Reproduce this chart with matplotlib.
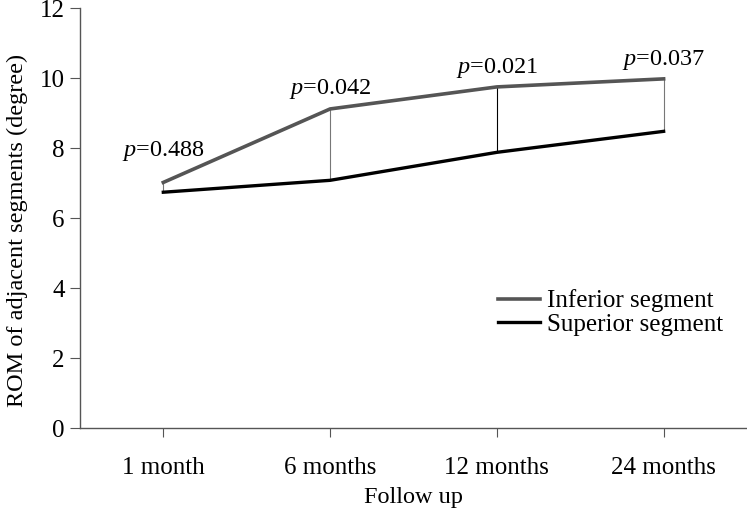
import matplotlib.pyplot as plt

plt.rcParams['font.family'] = ['Liberation Serif', 'DejaVu Serif']
plt.rcParams['mathtext.fontset'] = 'custom'
plt.rcParams['mathtext.it'] = 'Liberation Serif:italic'
plt.rcParams['mathtext.rm'] = 'Liberation Serif'

# data
follow_up = ["1 month", "6 months", "12 months", "24 months"]
inferior = [7.02, 9.12, 9.75, 9.98]
superior = [6.74, 7.08, 7.88, 8.48]
p_values = ["0.488", "0.042", "0.021", "0.037"]

x = range(len(follow_up))

fig = plt.figure(figsize=(7.47, 5.12), dpi=100)
ax = fig.add_axes([0.107, 0.164, 0.893, 0.82])

# vertical connectors between the two lines
conn_colors = ["#777777", "#777777", "black", "#777777"]
for i in x:
    ax.vlines(i, superior[i], inferior[i], color=conn_colors[i], lw=0.8, zorder=1)

ax.plot(x, inferior, color="#555555", lw=2.6, label="Inferior segment", zorder=3)
ax.plot(x, superior, color="black", lw=2.4, label="Superior segment", zorder=3)

# p value labels above the inferior line
offsets = [14, 6, 5, 5]
for i in x:
    ax.annotate("$p$=" + p_values[i], (i, inferior[i]), xytext=(0, offsets[i]),
                textcoords="offset points", ha="center", va="bottom", fontsize=17.5)

ax.set_xlim(-0.5, 3.5)
ax.set_ylim(0, 12)
ax.set_xticks(list(x))
ax.set_xticklabels(follow_up)
ax.set_yticks(range(0, 13, 2))

for s in ["top", "right"]:
    ax.spines[s].set_visible(False)
for s in ["left", "bottom"]:
    ax.spines[s].set_color("#555555")
    ax.spines[s].set_linewidth(1.0)
ax.tick_params(axis="both", colors="#555555", labelcolor="black", labelsize=18)
ax.tick_params(axis="y", length=7, pad=4)
ax.tick_params(axis="x", length=6.5, pad=14)

ax.set_xlabel("Follow up", fontsize=17.5, labelpad=6)
ax.set_ylabel("ROM of adjacent segments (degree)", fontsize=17.5)
ax.yaxis.set_label_coords(-0.078, 0.47)

ax.legend(loc="upper left", bbox_to_anchor=(0.626, 0.33), frameon=False, fontsize=18,
          handlelength=1.7, handletextpad=0.28, labelspacing=0.05, borderpad=0,
          borderaxespad=0)

fig.savefig("out.png", dpi=100)
